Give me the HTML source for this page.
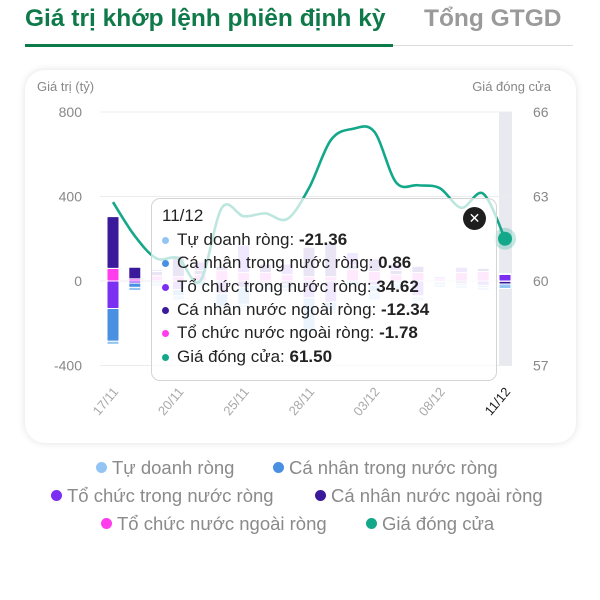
<!DOCTYPE html>
<html><head><meta charset="utf-8">
<style>
body{margin:0;width:600px;height:600px;background:#fff;font-family:"Liberation Sans",sans-serif;overflow:hidden;position:relative}
.t{position:absolute;white-space:nowrap}
</style></head><body>
<div class="t" style="left:25px;top:5px;font-size:24.5px;font-weight:bold;color:#0f7a49">Giá trị khớp lệnh phiên định kỳ</div>
<div class="t" style="left:424px;top:5px;font-size:24.5px;font-weight:bold;color:#9a9a9a">Tổng GTGD</div>
<div style="position:absolute;left:25px;top:44px;width:368px;height:3px;background:#0f7a49"></div>
<div style="position:absolute;left:393px;top:45px;width:180px;height:1px;background:#ddd"></div>
<div style="position:absolute;left:25px;top:70px;width:551px;height:373px;border-radius:20px;background:#fff;box-shadow:0 0 8px rgba(0,0,0,0.12)"></div>
<svg id="chart" width="600" height="600" style="position:absolute;left:0;top:0" font-family="Liberation Sans, sans-serif"></svg>
<div style="position:absolute;left:151px;top:198px;width:344px;height:181px;border:1.5px solid #d4d4d4;border-radius:9px;background:rgba(255,255,255,0.72);font-size:17px;color:#222">
 <div class="t" style="left:10px;top:7px">11/12</div>
 <div id="tipRows"></div>
</div>
<div style="position:absolute;left:463px;top:207px;width:23px;height:23px;border-radius:50%;background:#1e1e1e;color:#fff;font-size:14px;line-height:22px;text-align:center">✕</div>
<div id="legend"></div>
<script>
const dates=["17/11","18/11","19/11","20/11","21/11","24/11","25/11","26/11","27/11","28/11","01/12","02/12","03/12","04/12","05/12","08/12","09/12","10/12","11/12"];
const tickIdx=[0,3,6,9,12,15,18];
const leftTicks=[800,400,0,-400];
const rightTicks=[66,63,60,57];
const seriesNames=["Tự doanh ròng","Cá nhân trong nước ròng","Tổ chức trong nước ròng","Cá nhân nước ngoài ròng","Tổ chức nước ngoài ròng"];
const seriesColors=["#93c5f4","#4a90e2","#7b2ff2","#3a1a9a","#ff3ded"];
const tuDoanh=[-15,-15,-15,-20,-10,-10,-15,-20,-15,-20,-15,-10,-40,-30,-20,-15,-15,-15,-21.36];
const caNhanTN=[-155,-20,-10,-30,-20,-60,-80,-15,-20,-150,-40,-20,-30,-10,-5,-10,-10,-10,0.86];
const toChucTN=[-130,-10,10,-40,40,-60,130,-10,50,-80,-100,60,-20,30,-70,10,25,-20,34.62];
const caNhanNN=[245,55,20,100,20,20,-30,40,-15,140,160,20,60,20,30,-5,-10,15,-12.34];
const toChucNN=[60,10,25,20,30,50,40,40,30,20,20,55,45,30,40,10,40,45,-1.78];
const price=[62.8,61.6,60.8,60.8,60.0,62.6,62.3,62.4,62.2,63.3,65.0,65.4,65.3,63.5,63.4,63.3,62.6,63.1,61.5];
const series=[tuDoanh,caNhanTN,toChucTN,caNhanNN,toChucNN];
const stackOrder=[4,3,2,1,0];
const NS="http://www.w3.org/2000/svg",svg=document.getElementById("chart");
const x=i=>113+i*(505-113)/(dates.length-1);
const yL=v=>281-v*(169/800);
const yR=p=>281-(p-60)*(169/6);
function mk(t,a,p){const e=document.createElementNS(NS,t);for(const k in a)e.setAttribute(k,a[k]);(p||svg).appendChild(e);return e;}
let e;
e=mk("rect",{x:499,y:112,width:13,height:254,fill:"#e9eaf0"});


leftTicks.forEach(v=>{
 e=mk("line",{x1:100,x2:512,y1:yL(v),y2:yL(v),stroke:"#ececec","stroke-width":1});
 
 
 e=mk("text",{x:82,y:yL(v)+5,"text-anchor":"end","font-size":14,fill:"#888"});e.textContent=v;
 
 
});
rightTicks.forEach(v=>{
 e=mk("text",{x:533,y:yR(v)+5,"font-size":14,fill:"#888"});e.textContent=v;
 
 
});
e=mk("text",{x:37,y:91,"font-size":13,fill:"#888"});e.textContent="Giá trị (tỷ)";


e=mk("text",{x:551,y:91,"font-size":13,fill:"#888","text-anchor":"end"});e.textContent="Giá đóng cửa";


const bw=12;
dates.forEach((d,i)=>{
 const op=(i<2||i==dates.length-1)?1:0.4;
 let pos=0,neg=0;
 stackOrder.forEach(k=>{
  const v=series[k][i];let y0,y1;
  if(v>=0){y0=pos;y1=pos+v;pos=y1;}else{y0=neg;y1=neg+v;neg=y1;}
  const top=yL(Math.max(y0,y1)),h=Math.abs(yL(y0)-yL(y1));
  e=mk("rect",{x:x(i)-bw/2,y:top,width:bw,height:Math.max(h,1),fill:seriesColors[k],opacity:op,stroke:"#fff","stroke-width":1,rx:1});
  
  
 });
});
let dstr="";
const pts=price.map((p,i)=>[x(i),yR(p)]);
dstr="M"+pts[0][0]+","+pts[0][1];
for(let i=0;i<pts.length-1;i++){
 const p0=pts[Math.max(i-1,0)],p1=pts[i],p2=pts[i+1],p3=pts[Math.min(i+2,pts.length-1)];
 const c1=[p1[0]+(p2[0]-p0[0])/6,p1[1]+(p2[1]-p0[1])/6],c2=[p2[0]-(p3[0]-p1[0])/6,p2[1]-(p3[1]-p1[1])/6];
 dstr+=` C${c1[0]},${c1[1]} ${c2[0]},${c2[1]} ${p2[0]},${p2[1]}`;
}
e=mk("path",{d:dstr,fill:"none",stroke:"#14a88a","stroke-width":2.6});


const last=pts[pts.length-1];
e=mk("circle",{cx:last[0],cy:last[1],r:11,fill:"#14a88a",opacity:0.25});


e=mk("circle",{cx:last[0],cy:last[1],r:7,fill:"#14a88a"});


tickIdx.forEach(i=>{
 e=mk("text",{x:x(i)+6,y:392,"font-size":13,fill:i==dates.length-1?"#222":"#aaa","text-anchor":"end",transform:`rotate(-50 ${x(i)+6} 392)`});
 e.textContent=dates[i];
 
 
});
const tip=document.getElementById("tipRows");
const li=dates.length-1;
const rows=seriesNames.map((n,k)=>[n,series[k][li].toFixed(2),seriesColors[k]]);
rows.push(["Giá đóng cửa",price[li].toFixed(2),"#14a88a"]);
rows.forEach((r,j)=>{
 const d=document.createElement("div");d.className="t";
 d.style.cssText=`left:10px;top:${31+j*23.3}px`;
 d.innerHTML=`<span style="display:inline-block;width:7px;height:7px;border-radius:50%;background:${r[2]};margin-right:8px;vertical-align:middle"></span>${r[0]}: <b>${r[1]}</b>`;
 
 
 tip.appendChild(d);
});
const lg=document.getElementById("legend");
const legendItems=[[0,96,457],[1,273,457],[2,51,485],[3,315,485],[4,101,513],[5,366,513]];
legendItems.forEach(([k,lx,ly])=>{
 const name=k<5?seriesNames[k]:"Giá đóng cửa",col=k<5?seriesColors[k]:"#14a88a";
 const d=document.createElement("div");d.className="t";
 d.style.cssText=`left:${lx}px;top:${ly}px;font-size:18.5px;color:#8a8a8a`;
 d.innerHTML=`<span style="display:inline-block;width:11px;height:11px;border-radius:50%;background:${col};margin-right:5px;vertical-align:1px"></span>${name}`;
 
 
 lg.appendChild(d);
});
</script>
</body></html>
